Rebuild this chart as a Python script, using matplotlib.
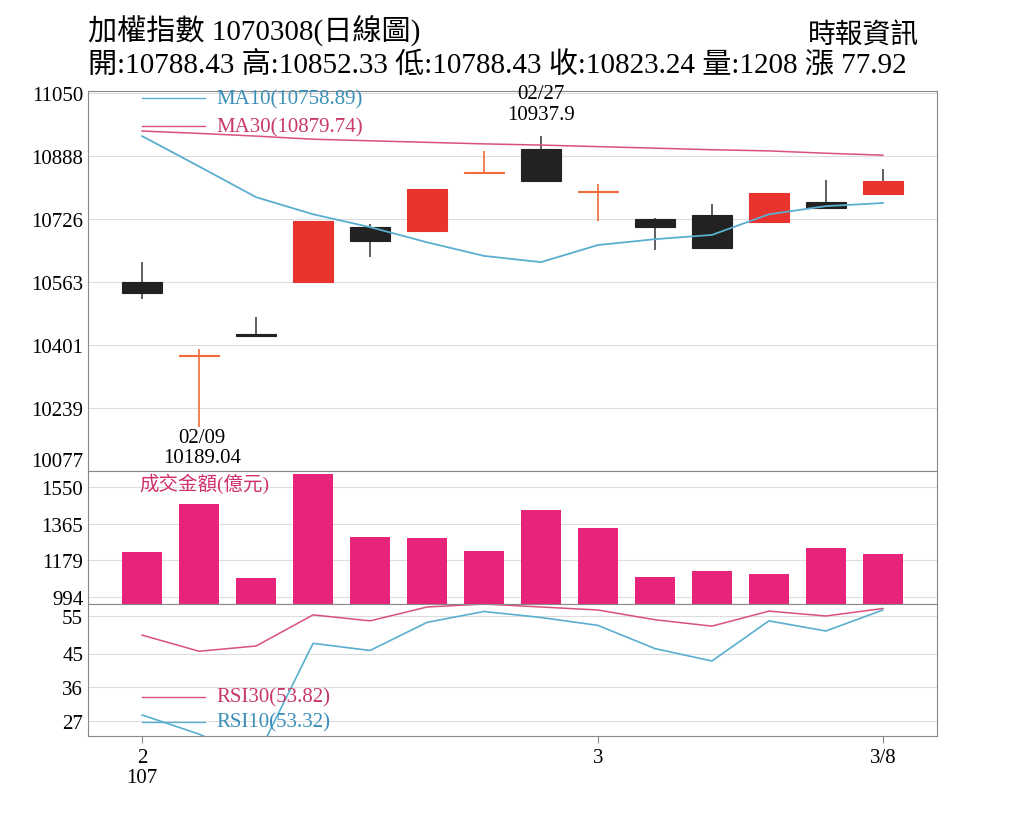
import matplotlib
matplotlib.use("Agg")
import matplotlib.pyplot as plt
import numpy as np

plt.rcParams['font.family'] = ['Liberation Serif', 'Noto Sans CJK TC']

# daily candles (open, high, low, close)
opens = [10563, 10375, 10430, 10563, 10704, 10694, 10843, 10905, 10794, 10725, 10735, 10716, 10768, 10788.43]
highs = [10614, 10391, 10473, 10720, 10712, 10802, 10900, 10937.9, 10815, 10728, 10763, 10792, 10825, 10852.33]
lows = [10519, 10189.04, 10422, 10563, 10627, 10694, 10840, 10822, 10720, 10645, 10650, 10716, 10753, 10788.43]
closes = [10534, 10373, 10425, 10720, 10668, 10802, 10845, 10822, 10796, 10704, 10650, 10792, 10753, 10823.24]
ma10 = [10938, 10860, 10781, 10737, 10704, 10665, 10630, 10614, 10658, 10673, 10684, 10737, 10758, 10766]
ma30 = [10951, 10945, 10938, 10930, 10926, 10922, 10918, 10915, 10911, 10907, 10903, 10900, 10894, 10889]
volume = [1221, 1464, 1090, 1615, 1297, 1292, 1226, 1433, 1342, 1095, 1125, 1110, 1241, 1211]
rsi30 = [49.9, 45.6, 47.0, 55.3, 53.7, 57.4, 58.2, 57.4, 56.6, 54.0, 52.3, 56.3, 55.0, 57.0]
rsi10 = [28.6, 23.5, 17.0, 47.7, 45.8, 53.3, 56.2, 54.6, 52.5, 46.3, 43.0, 53.7, 51.0, 56.6]
price_ticks = [10077, 10239, 10401, 10563, 10726, 10888, 11050]
vol_ticks = [994, 1179, 1365, 1550]
rsi_ticks = [27, 36, 45, 55]
x_labels = {0: "2\n107", 8: "3", 13: "3/8"}

RED = "#e8332e"
BLK = "#222222"
ORG = "#f06a3a"
PINK = "#e8237a"
BLUE = "#5aaed0"
MPINK = "#d9507f"

W, H = 1024, 820
fig = plt.figure(figsize=(W / 100, H / 100), dpi=100)


def add_ax(top, bottom):
    return fig.add_axes([88 / W, 1 - bottom / H, (937 - 88) / W, (bottom - top) / H])


ax = add_ax(92, 472)
axv = add_ax(472, 605)
axr = add_ax(605, 737)
x = np.arange(len(opens))

for a in (ax, axv, axr):
    a.set_xlim(-0.95, 13.95)
    a.tick_params(length=0, labelsize=15)
    for s in a.spines.values():
        s.set_color("#888888")
    a.set_xticks([])

# candles
for i in x:
    o, h, l, c = opens[i], highs[i], lows[i], closes[i]
    if abs(c - o) < 5:
        col = ORG
    elif c > o:
        col = RED
    else:
        col = BLK
    ax.vlines(i, l, h, color=col if col == ORG else "#444444", lw=1.2, zorder=2)
    lo, hi = min(o, c), max(o, c)
    ax.bar(i, max(hi - lo, 2), bottom=lo, width=0.7, color=col,
           edgecolor=BLK if col == BLK else col, lw=0.8, zorder=3)
ax.plot(x, ma10, color=BLUE, lw=1.3, zorder=4)
ax.plot(x, ma30, color=MPINK, lw=1.1, zorder=4)
ax.set_ylim(10077, 11054)
ax.set_yticks(price_ticks)
ax.get_yticklabels()[0].set_va("bottom")
ax.grid(axis="y", color="#dddddd", lw=0.8)
ax.plot([0, 1.1], [11035, 11035], color=BLUE, lw=1)
ax.text(1.3, 11035, "MA10(10758.89)", color="#3a8fb8", fontsize=15, va="center")
ax.plot([0, 1.1], [10963, 10963], color=MPINK, lw=1)
ax.text(1.3, 10963, "MA30(10879.74)", color="#c8386a", fontsize=15, va="center")
ax.text(7, 10970, "02/27\n10937.9", ha="center", va="bottom", fontsize=15, linespacing=1.1)
ax.text(1.05, 10087, "02/09\n10189.04", ha="center", va="bottom", fontsize=15, linespacing=1.1)

# volume
axv.bar(x, volume, width=0.7, color=PINK, zorder=3)
axv.set_ylim(959, 1630)
axv.set_yticks(vol_ticks)
axv.grid(axis="y", color="#dddddd", lw=0.8)
axv.text(-0.05, 1570, "成交金額(億元)", color="#d0306e", fontsize=14, va="center")

# rsi
axr.plot(x, rsi30, color=MPINK, lw=1.1)
axr.plot(x, rsi10, color=BLUE, lw=1.2)
axr.set_ylim(23, 58.2)
axr.set_yticks(rsi_ticks)
axr.grid(axis="y", color="#dddddd", lw=0.8)
axr.plot([0, 1.1], [33.4, 33.4], color=MPINK, lw=1)
axr.text(1.3, 33.4, "RSI30(53.82)", color="#c8386a", fontsize=15, va="center")
axr.plot([0, 1.1], [26.8, 26.8], color=BLUE, lw=1)
axr.text(1.3, 26.8, "RSI10(53.32)", color="#3a8fb8", fontsize=15, va="center")
axr.set_xticks(list(x_labels.keys()))
axr.set_xticklabels(list(x_labels.values()), fontsize=15, linespacing=1.1)
axr.tick_params(axis="x", length=5, color="#888888")

# header
fig.text(88 / W, 1 - 30 / H, "加權指數 1070308(日線圖)", fontsize=21, va="center")
fig.text(808 / W, 1 - 36 / H, "時報資訊", fontsize=20, va="center")
fig.text(88 / W, 1 - 65 / H,
         "開:10788.43 高:10852.33 低:10788.43 收:10823.24 量:1208 漲 77.92",
         fontsize=21, va="center")

fig.savefig("out.png", dpi=100)
